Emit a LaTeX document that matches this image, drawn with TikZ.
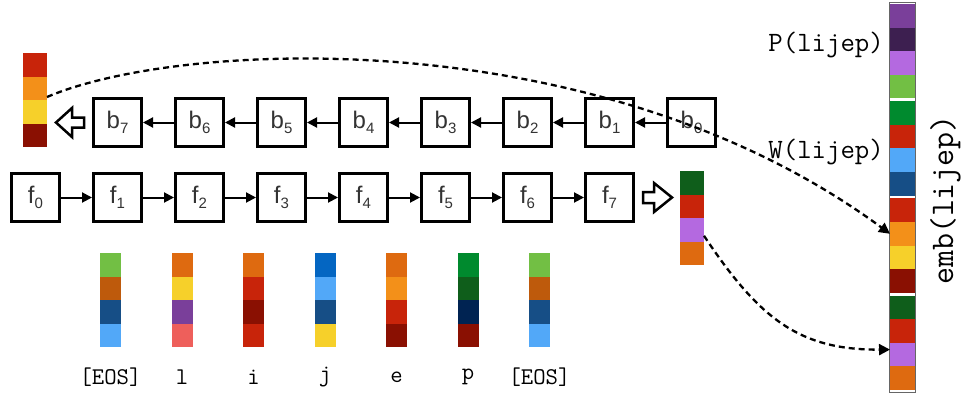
\documentclass[tikz,border=0pt]{standalone}
\usepackage{fontspec}
\setmainfont{Liberation Sans}
\usetikzlibrary{arrows.meta}
\definecolor{cRed}{HTML}{C8240A}
\definecolor{cOrange}{HTML}{F39019}
\definecolor{cYellow}{HTML}{F6D02A}
\definecolor{cDarkRed}{HTML}{8A1002}
\definecolor{cDarkGreen}{HTML}{0F5E1B}
\definecolor{cPurpleL}{HTML}{B469E0}
\definecolor{cOrangeD}{HTML}{DE6A10}
\definecolor{cPurple}{HTML}{7A3F9A}
\definecolor{cPurpleD}{HTML}{3D1F50}
\definecolor{cGreenL}{HTML}{72BF44}
\definecolor{cGreen}{HTML}{008A2E}
\definecolor{cBlueL}{HTML}{52A8F8}
\definecolor{cBlue}{HTML}{164E86}
\definecolor{cBrown}{HTML}{BE5A0C}
\definecolor{cSalmon}{HTML}{EE5F5B}
\definecolor{cBlueM}{HTML}{0466C2}
\definecolor{cNavy}{HTML}{002352}
\newcommand\cbar[6]{%
  \foreach \c [count=\i] in {#6} {%
    \node[cell, fill=\c, minimum width=#4pt, minimum height=#5pt, anchor=north west]
      (#1-\i) at (#2, {#3+(\i-1)*#5}) {};
  }}
\newcommand\sublab[2]{#1\raisebox{-0.22em}{\fontsize{15}{15}\selectfont #2}}
\begin{document}
\begin{tikzpicture}[x=1pt,y=-1pt,
  cell/.style={inner sep=0pt, outer sep=0pt, draw=none},
  rnnbox/.style={draw, line width=3pt, minimum size=48pt, inner sep=0pt, fill=white,
    font=\fontsize{24}{24}\selectfont, text=black!80},
  arr/.style={line width=2pt, -{Triangle[length=10pt,width=10pt]}},
  dashlink/.style={line width=2.3pt, dash pattern=on 6pt off 4pt, -{Triangle[length=11pt,width=11pt]}},
  hollow/.style={draw, line width=2.5pt, fill=white, line join=miter},
  lab/.style={font=\ttfamily\fontsize{24}{24}\selectfont, inner sep=0pt},
  plab/.style={font=\ttfamily\fontsize{28}{28}\selectfont, inner sep=0pt, anchor=east}]
\useasboundingbox (0,0) rectangle (963,396);

% RNN boxes
\foreach \i in {0,...,7} {
  \node[rnnbox] (f\i) at ({35.5+82*\i},197.5) {\sublab{f}{\i}};
  \node[rnnbox] (b\i) at ({117.5+82*(7-\i)},122.5) {\sublab{b}{\i}};
}
\foreach \i [evaluate=\i as \j using int(\i+1)] in {0,...,6} {
  \draw[arr] (f\i.east) -- (f\j.west);
  \draw[arr] (b\i.west) -- (b\j.east);
}

% colour bars
\cbar{lbar}{23}{53}{24}{23.5}{cRed,cOrange,cYellow,cDarkRed}
\cbar{mbar}{680}{171}{24}{23.5}{cDarkGreen,cRed,cPurpleL,cOrangeD}
\cbar{w0}{100}{253}{21}{23.5}{cGreenL,cBrown,cBlue,cBlueL}
\cbar{w1}{171.5}{253}{21}{23.5}{cOrangeD,cYellow,cPurple,cSalmon}
\cbar{w2}{243}{253}{21}{23.5}{cOrangeD,cRed,cDarkRed,cRed}
\cbar{w3}{314.5}{253}{21}{23.5}{cBlueM,cBlueL,cBlue,cYellow}
\cbar{w4}{386}{253}{21}{23.5}{cOrangeD,cOrange,cRed,cDarkRed}
\cbar{w5}{457.5}{253}{21}{23.5}{cGreen,cDarkGreen,cNavy,cDarkRed}
\cbar{w6}{529}{253}{21}{23.5}{cGreenL,cBrown,cBlue,cBlueL}

\foreach \t [count=\k from 0] in {{[EOS]},l,i,j,e,p,{[EOS]}} {
  \node[lab] (t\k) at ({110.5+71.5*\k},377) {\t};
}

% big embedding bar
\draw[black!60, line width=1pt] (889.5,3) rectangle (915.5,392.5);
\foreach \c [count=\i from 0] in {cPurple,cPurpleD,cPurpleL,cGreenL,cGreen,cRed,cBlueL,cBlue,cRed,cOrange,cYellow,cDarkRed,cDarkGreen,cRed,cPurpleL,cOrangeD} {
  \pgfmathsetmacro\yy{4+int(\i/4)*97.2+mod(\i,4)*23.6}
  \node[cell, fill=\c, minimum width=25pt, minimum height=23.6pt, anchor=north west] (E-\i) at (890,\yy) {};
}
\node[plab] (plab) at (884,45) {P(lijep)};
\node[plab] (wlab) at (884,152) {W(lijep)};
\node[font=\ttfamily\fontsize{33}{33}\selectfont, rotate=90, inner sep=0pt] (emb) at (945.5,200) {emb(lijep)};

% hollow arrows
\draw[hollow] (56,122.5) -- (72,108) -- (72,117.5) -- (84,117.5) -- (84,127.5) -- (72,127.5) -- (72,137) -- cycle;
\draw[hollow] (672,197.5) -- (654,183) -- (654,192) -- (643,192) -- (643,203) -- (654,203) -- (654,212) -- cycle;

% dashed links
\draw[dashlink] ([yshift=3pt]lbar-2.south east) .. controls (180,40) and (600,20) .. (E-9.west);
\draw[dashlink] ([yshift=-6pt]mbar-3.east) .. controls (760,320) and (800,350) .. ([yshift=5pt]E-14.west);
\end{tikzpicture}
\end{document}
